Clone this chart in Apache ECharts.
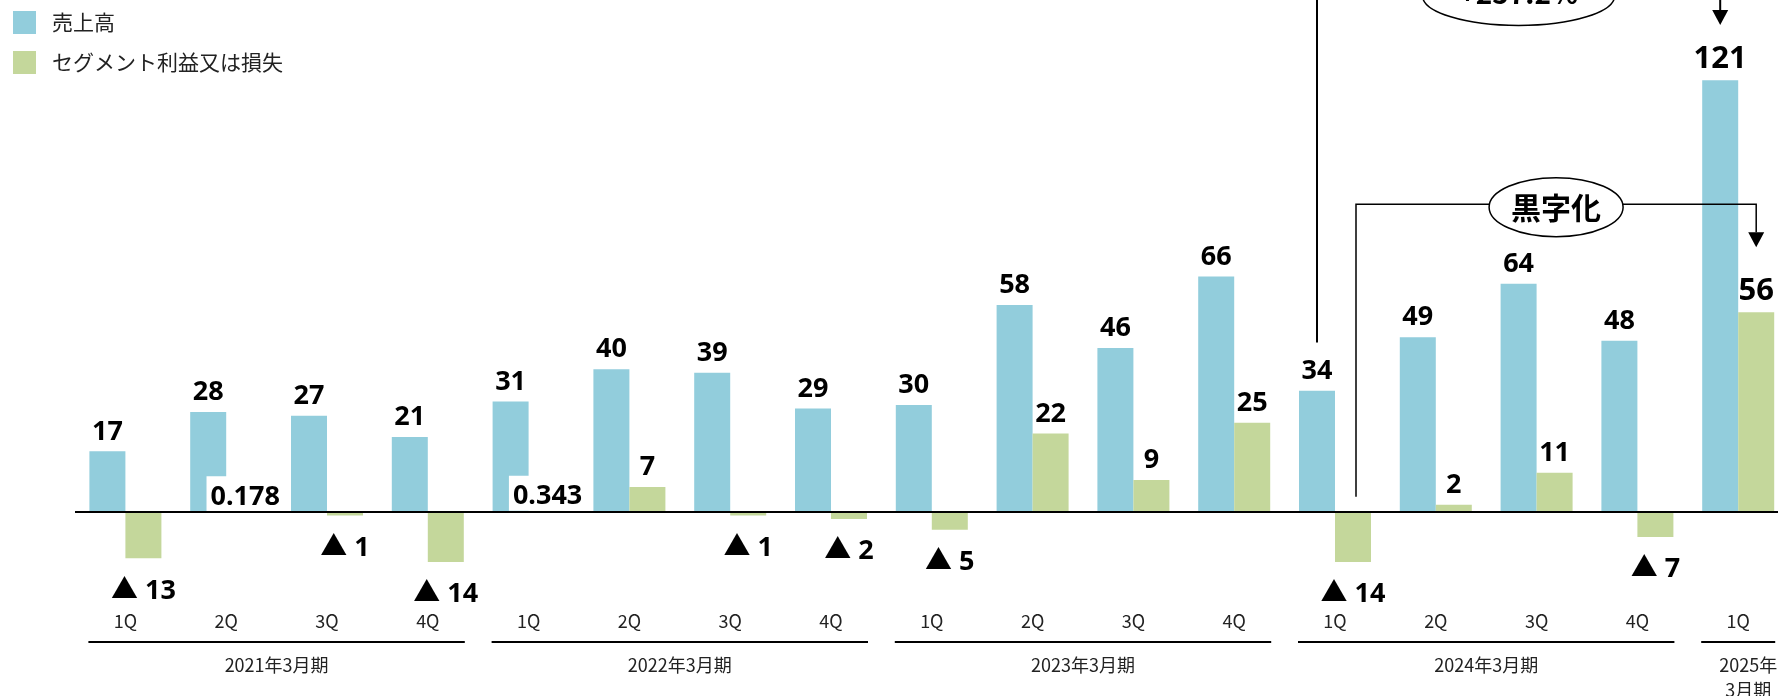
<!DOCTYPE html>
<html>
<head>
<meta charset="utf-8">
<script src="https://cdn.jsdelivr.net/npm/echarts@6/dist/echarts.min.js"></script>
<style>
html,body{margin:0;padding:0;background:#fff;}
#chart{width:1778px;height:696px;}
</style>
</head>
<body>
<div id="chart"></div>
<script>
// ---------- data ----------
const fiscalYears = ['2021年3月期', '2022年3月期', '2023年3月期', '2024年3月期', '2025年\n3月期'];
const quartersPerYear = [4, 4, 4, 4, 1];
const quarterLabels = ['1Q','2Q','3Q','4Q','1Q','2Q','3Q','4Q','1Q','2Q','3Q','4Q','1Q','2Q','3Q','4Q','1Q'];
const sales = [17, 28, 27, 21, 31, 40, 39, 29, 30, 58, 46, 66, 34, 49, 64, 48, 121];
const segmentProfit = [-13, 0.178, -1, -14, 0.343, 7, -1, -2, -5, 22, 9, 25, -14, 2, 11, -7, 56];
const seriesNames = ['売上高', 'セグメント利益又は損失'];
const lossMark = '▲';
const salesCalloutText = '+257.2%';
const profitCalloutText = '黒字化';
const calloutFrom = 12, calloutTo = 16;

// ---------- styles / layout ----------
const BLUE = '#92CDDC', GREEN = '#C4D79B';
const BAR_W = 36;
const JP = '"Noto Sans CJK JP", "Noto Sans", sans-serif';
const VAL = '"Noto Sans", "Noto Sans CJK JP", sans-serif';
const valFont = { fontFamily: VAL, fontWeight: 'bold', fontSize: 27, color: '#000' };
const bigLabelIndex = 16;   // latest quarter labels are drawn larger
const bigLabelSize = 31;
// callout vertical anchors in axis value units
const callLayout = {
  sales:  { bottom: 47.5, top: 145.5, tip: 136.5, rx: 96, ry: 29.5, textDy: 0 },
  profit: { bottom: 4.3,  top: 86.3,  tip: 74.2,  rx: 67, ry: 29.5, textDy: 3 }
};

const categories = [];
(function(){
  let k = 0;
  fiscalYears.forEach((fy, yi) => {
    for (let q = 0; q < quartersPerYear[yi]; q++) {
      categories.push(fy.replace('\n', '') + ' ' + quarterLabels[k]);
      k++;
    }
  });
})();

function profitLabel(v, i) {
  let l;
  if (v < 0) l = { position: 'bottom', distance: 19, formatter: lossMark + ' ' + Math.abs(v) };
  else if (v < 1) l = { position: 'top', distance: 0, backgroundColor: '#fff', padding: [7, 2, 1, 4] };
  else l = { position: 'top', distance: 6 };
  if (i === bigLabelIndex) l.fontSize = bigLabelSize;
  return l;
}
function salesLabel(v, i) {
  return i === bigLabelIndex ? { fontSize: bigLabelSize } : {};
}

const chart = echarts.init(document.getElementById('chart'), null, { renderer: 'canvas' });

const option = {
  animation: false,
  backgroundColor: '#fff',
  legend: {
    orient: 'vertical', left: 13, top: 11, padding: 0,
    itemWidth: 23, itemHeight: 23, itemGap: 17, icon: 'rect',
    textStyle: { fontFamily: JP, fontSize: 21, color: '#222', padding: [0, 0, 0, 11] },
    data: seriesNames
  },
  grid: { left: 75, right: -10.6, top: 12.6, bottom: 77, outerBoundsMode: 'none' },
  xAxis: {
    type: 'category', data: categories,
    axisLine: { show: false }, axisTick: { show: false },
    axisLabel: {
      interval: 0, margin: 2, verticalAlign: 'middle',
      formatter: (v, i) => quarterLabels[i],
      fontFamily: JP, fontSize: 18, color: '#222'
    }
  },
  yAxis: { type: 'value', min: -30, max: 140, show: false },
  series: [
    {
      name: seriesNames[0], type: 'bar',
      data: sales.map((v, i) => ({ value: v, label: salesLabel(v, i) })),
      barWidth: BAR_W, barGap: '0%',
      itemStyle: { color: BLUE },
      label: Object.assign({ show: true, position: 'top', distance: 6 }, valFont),
      markLine: {
        silent: true, symbol: 'none', label: { show: false },
        lineStyle: { color: '#000', width: 2, type: 'solid' },
        data: [{ yAxis: 0 }]
      }
    },
    {
      name: seriesNames[1], type: 'bar',
      data: segmentProfit.map((v, i) => ({ value: v, label: profitLabel(v, i) })),
      barWidth: BAR_W, barGap: '0%',
      itemStyle: { color: GREEN },
      label: Object.assign({ show: true }, valFont)
    }
  ]
};
chart.setOption(option);

// ---------- annotations derived from the axes ----------
const P = (i, v) => chart.convertToPixel({ gridIndex: 0 }, [i, v]);
const g = [];
const UNDER_Y = 642, YEAR_Y = 652.5;
let start = 0;
fiscalYears.forEach((fy, yi) => {
  const n = quartersPerYear[yi], end = start + n - 1;
  const cs = P(start, 0)[0], ce = P(end, 0)[0];
  g.push({ type: 'line', z: 100, shape: { x1: cs - 37, y1: UNDER_Y, x2: ce + 37, y2: UNDER_Y },
           style: { stroke: '#000', lineWidth: 2 } });
  g.push({ type: 'text', z: 100, x: (cs + ce) / 2 + (n === 1 ? 10 : 0), y: YEAR_Y,
           style: { text: fy, align: 'center', verticalAlign: 'top', lineHeight: 25,
                    font: '18px ' + JP, fill: '#222' } });
  start += n;
});

function callout(xL, xR, lay, text, lw, textSize) {
  const yB = P(0, lay.bottom)[1], yT = P(0, lay.top)[1], tip = P(0, lay.tip)[1];
  const ah = 15, aw = 8;
  g.push({ type: 'polyline', z: 100, shape: { points: [[xL, yB], [xL, yT], [xR, yT], [xR, tip - ah]] },
           style: { stroke: '#000', lineWidth: lw, fill: null } });
  g.push({ type: 'polygon', z: 100, shape: { points: [[xR - aw, tip - ah], [xR + aw, tip - ah], [xR, tip]] },
           style: { fill: '#000' } });
  const cx = (xL + xR) / 2;
  g.push({ type: 'ellipse', z: 101, shape: { cx: cx, cy: yT + 3, rx: lay.rx, ry: lay.ry },
           style: { fill: '#fff', stroke: '#000', lineWidth: 1.5 } });
  g.push({ type: 'text', z: 102, x: cx, y: yT + lay.textDy,
           style: { text: text, align: 'center', verticalAlign: 'middle',
                    font: 'bold ' + textSize + 'px ' + JP, fill: '#000' } });
}
callout(P(calloutFrom, 0)[0] - BAR_W / 2, P(calloutTo, 0)[0] - BAR_W / 2, callLayout.sales, salesCalloutText, 2, 28);
callout(P(calloutFrom, 0)[0] + BAR_W / 2 + 3, P(calloutTo, 0)[0] + BAR_W / 2, callLayout.profit, profitCalloutText, 1.5, 30);

chart.setOption({ graphic: g });
</script>
</body>
</html>
